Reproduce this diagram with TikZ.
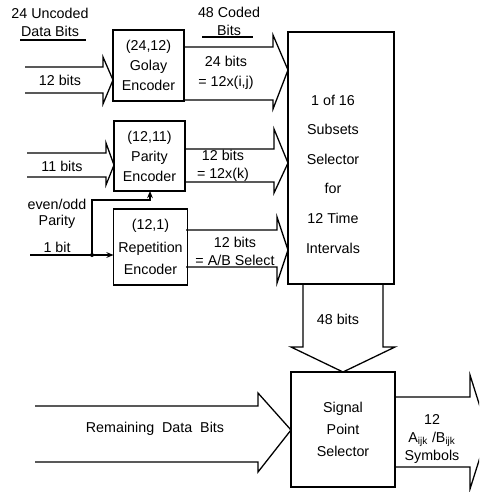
\documentclass[tikz,border=0pt]{standalone}
\usepackage{fontspec}
\setmainfont{Liberation Sans}
\usetikzlibrary{arrows.meta}
\tikzset{
  box/.style={draw, line width=0.9pt, outer sep=0pt, align=center,
    font=\fontsize{10}{14}\selectfont},
  bigarrow/.style={line width=0.9pt, line join=miter},
  lbl/.style={align=center, inner sep=0pt, font=\fontsize{10}{12.6}\selectfont},
  sig/.style={line width=0.9pt, -{Stealth[length=5pt,width=4pt]}},
}
\begin{document}
\begin{tikzpicture}[x=0.7pt, y=-0.7pt]
\useasboundingbox (0,0) rectangle (479,492);
\clip (0,0) rectangle (479,492);
% encoders
\node[box, minimum width=49.7pt, minimum height=49.7pt] (golay) at (148.5,65.5) {(24,12)\\Golay\\Encoder};
\node[box, minimum width=49.7pt, minimum height=49pt] (parity) at (149.5,156) {(12,11)\\Parity\\Encoder};
\node[box, minimum width=49.7pt, minimum height=53.2pt, font=\fontsize{10}{16}\selectfont] (rep) at (150.5,247) {(12,1)\\Repetition\\Encoder};
% selectors
\node[box, minimum width=74.2pt, minimum height=176.4pt] (subsel) at (341,158) {};
\node[lbl, font=\fontsize{10}{20.7}\selectfont] (subtxt) at (333,174) {1 of 16\\Subsets\\Selector\\for\\12 Time\\Intervals};
\node[box, minimum width=72.8pt, minimum height=80.5pt, font=\fontsize{10}{15.4}\selectfont] (spsel) at (343,429.5) {Signal\\Point\\Selector};
% wide arrows
\draw[bigarrow] (25,67) -- (103,67) -- (103,57) -- (113,80) -- (103,104) -- (103,93) -- (25,93);
\draw[bigarrow] (184,47) -- (273,47) -- (273,35) -- (288,70) -- (273,109) -- (273,100) -- (184,100);
\draw[bigarrow] (27,153) -- (106,153) -- (106,143) -- (114,165) -- (106,185) -- (106,177) -- (27,177);
\draw[bigarrow] (185,149) -- (274,149) -- (274,129) -- (288,163) -- (274,193) -- (274,182) -- (185,182);
\draw[bigarrow] (186,230) -- (277,230) -- (277,217) -- (288,250) -- (277,283) -- (277,267) -- (186,267);
\draw[bigarrow] (303,284) -- (303,347) -- (291,347) -- (343,372) -- (395,347) -- (383,347) -- (383,284);
\draw[bigarrow] (35,406) -- (258,406) -- (258,393) -- (291,430) -- (258,472) -- (258,462) -- (35,462);
\draw[bigarrow] (395,397) -- (470,397) -- (470,375) -- (488,432) -- (470,489) -- (470,467) -- (395,467);
% parity bit
\coordinate (bitin) at (30,255);
\coordinate (jn) at (92,255);
\coordinate (fb) at (150,200);
\draw[sig] (bitin) -- (rep.west |- bitin);
\fill (jn) circle (1.4pt);
\draw[sig] (jn) |- (fb) -- (fb |- parity.south);
% labels
\node[lbl] (unc) at (50,22) {24 Uncoded\\Data Bits};
\draw[line width=0.9pt] (20,40) -- (86,40);
\node[lbl] (cod) at (229,21) {48 Coded\\Bits};
\draw[line width=0.9pt] (202,37) -- (253,37);
\node[lbl] (in12) at (60,80) {12 bits};
\node[lbl] (in11) at (62,166) {11 bits};
\node[lbl, font=\fontsize{10}{11}\selectfont] (eo) at (57,214) {even/odd\\Parity};
\node[lbl] (in1) at (57,247) {1 bit};
\node[lbl, font=\fontsize{10}{14}\selectfont] (out24) at (226,73) {24 bits\\= 12x(i,j)};
\node[lbl] (out12a) at (223,166) {12 bits\\= 12x(k)};
\node[lbl] (out12b) at (235,251) {12 bits\\= A/B Select};
\node[lbl] (b48) at (338,319) {48 bits};
\node[lbl] (rem) at (155,429) {Remaining~~Data~~Bits};
\node[lbl] (sym) at (432,439) {12\\A\textsubscript{ijk} /B\textsubscript{ijk}\\Symbols};
\end{tikzpicture}
\end{document}
